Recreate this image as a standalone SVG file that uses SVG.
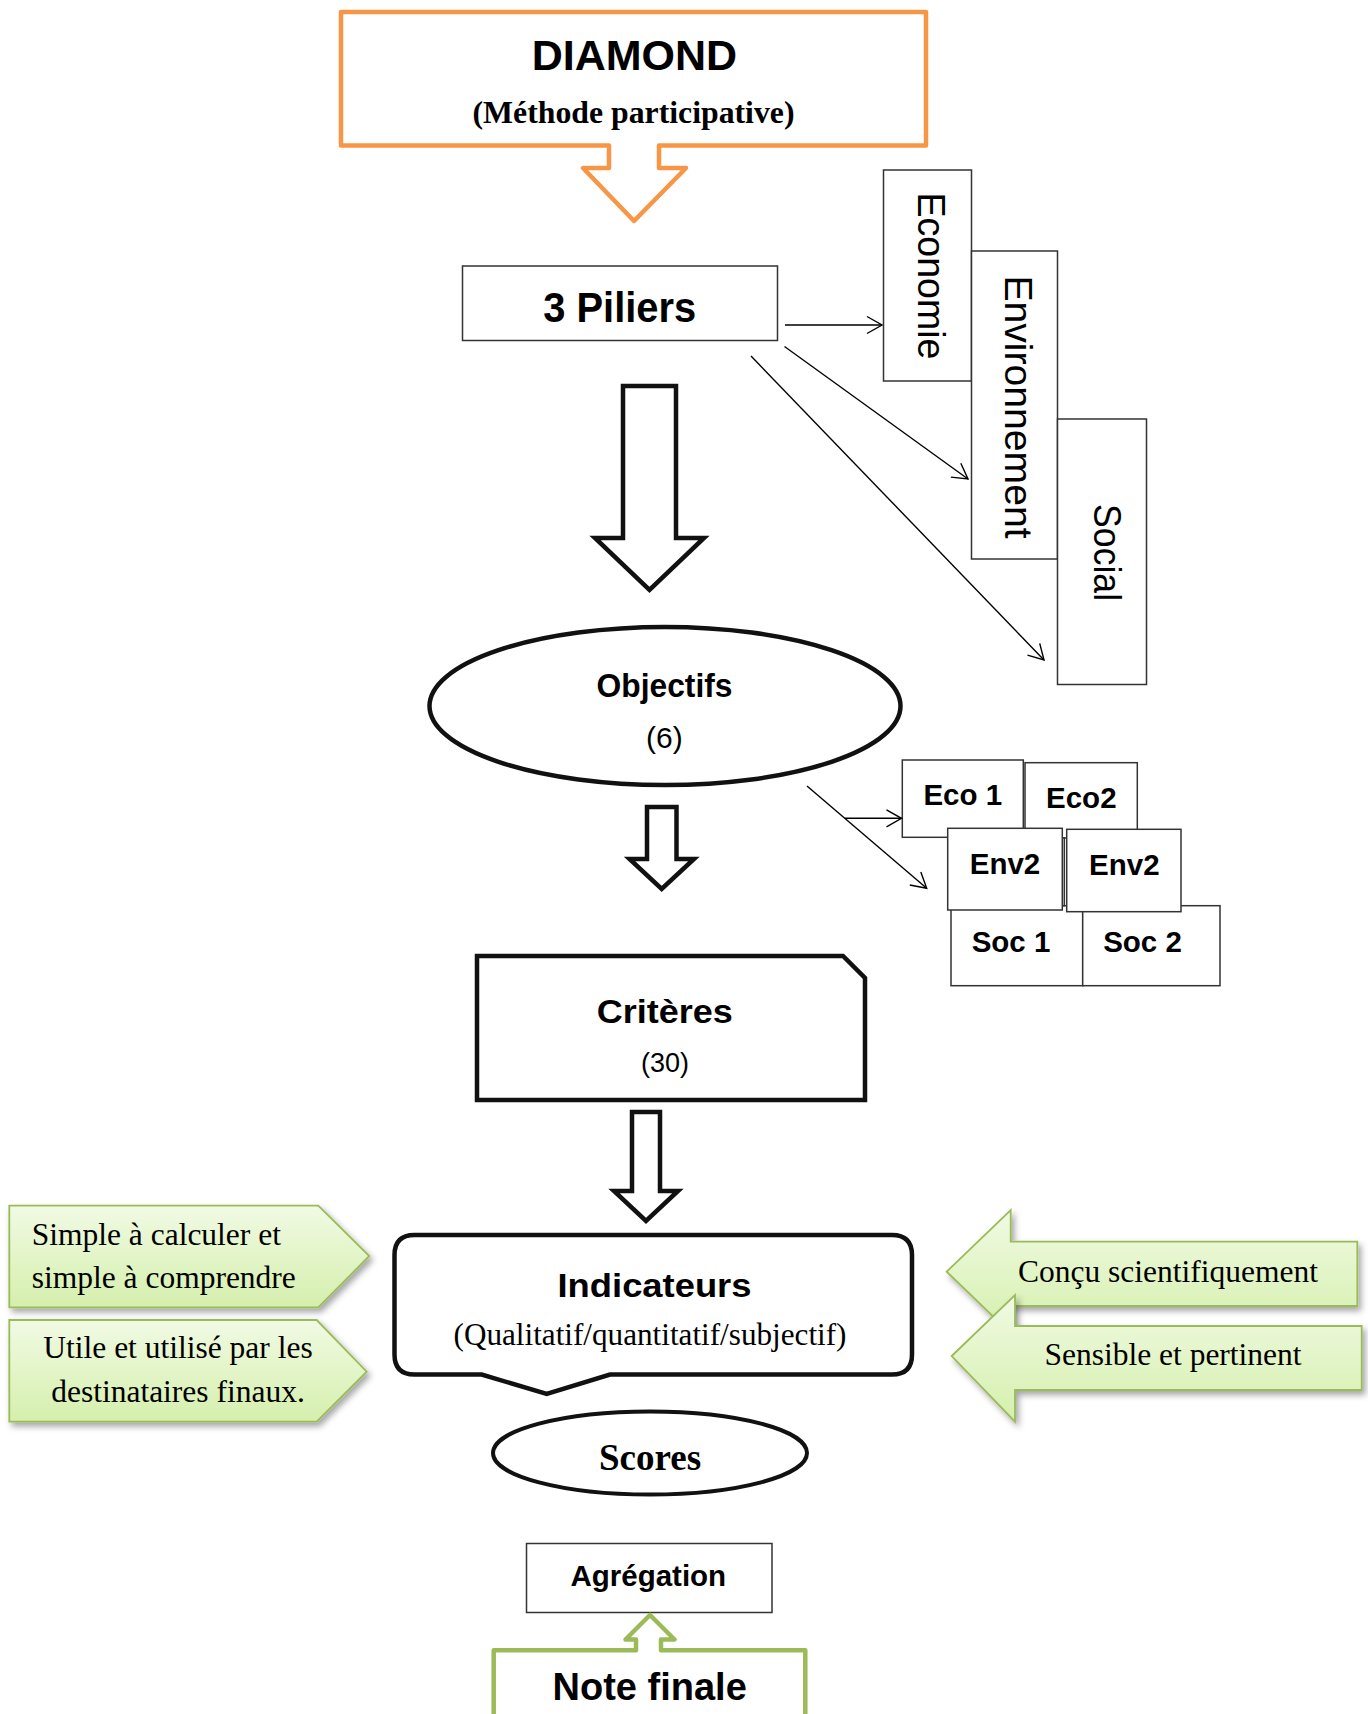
<svg xmlns="http://www.w3.org/2000/svg" width="1368" height="1714" viewBox="0 0 1368 1714">
<style>
.sans{font-family:"Liberation Sans",Arial,sans-serif;fill:#000}
.serif{font-family:"Liberation Serif","Times New Roman",serif;fill:#000}
.b{font-weight:bold}
.thin{fill:#fff;stroke:#333;stroke-width:1.5}
.thick{fill:#fff;stroke:#111;stroke-width:4.5;stroke-linejoin:miter}
.conn{fill:none;stroke:#000;stroke-width:1.4;marker-end:url(#ah)}
.green{fill:url(#gg);stroke:#9BBB59;stroke-width:1.8;filter:url(#sh)}
</style>
<defs>
<marker id="ah" viewBox="-17 -10 20 20" markerWidth="20" markerHeight="20" refX="0" refY="0" markerUnits="userSpaceOnUse" orient="auto">
<path d="M-15,-8.5 L0,0 L-15,8.5" fill="none" stroke="#000" stroke-width="1.4"/>
</marker>
<linearGradient id="gg" x1="0" y1="0" x2="0" y2="1">
<stop offset="0" stop-color="#F1FAE4"/>
<stop offset="0.5" stop-color="#E3F5C8"/>
<stop offset="1" stop-color="#D5EFAD"/>
</linearGradient>
<filter id="sh" x="-10%" y="-20%" width="125%" height="150%">
<feDropShadow dx="3" dy="4" stdDeviation="3" flood-color="#000" flood-opacity="0.35"/>
</filter>
</defs>
<rect width="1368" height="1714" fill="#fff"/>

<g id="diamond">
<path d="M341,12 H926 V145.5 H659 V168 H686 L634,221 L583,168 H609 V145.5 H341 Z" fill="#fff" stroke="#F79646" stroke-width="4.5" stroke-linejoin="round"/>
<text class="sans b" x="634.4" y="70" font-size="43" text-anchor="middle">DIAMOND</text>
<text class="serif b" x="633.5" y="123.3" font-size="31" text-anchor="middle" textLength="322" lengthAdjust="spacingAndGlyphs">(Méthode participative)</text>
</g>

<g id="piliers">
<rect class="thin" x="462.5" y="266" width="315" height="74.5"/>
<text class="sans b" x="619.75" y="321.7" font-size="42" text-anchor="middle" textLength="153" lengthAdjust="spacingAndGlyphs">3 Piliers</text>
</g>

<g id="economie">
<rect class="thin" x="883.5" y="170" width="88" height="211"/>
<text class="sans" transform="translate(917.7,276) rotate(90)" font-size="39" text-anchor="middle" textLength="167" lengthAdjust="spacingAndGlyphs">Economie</text>
</g>
<g id="environnement">
<rect class="thin" x="971.5" y="251" width="86" height="308"/>
<text class="sans" transform="translate(1005,407) rotate(90)" font-size="39" text-anchor="middle" textLength="263" lengthAdjust="spacingAndGlyphs">Environnement</text>
</g>
<g id="social">
<rect class="thin" x="1057.5" y="419" width="89" height="265.5"/>
<text class="sans" transform="translate(1094,552.6) rotate(90)" font-size="39" text-anchor="middle" textLength="97" lengthAdjust="spacingAndGlyphs">Social</text>
</g>

<g id="arrow1">
<path class="thick" d="M623,386 H676 V538 H704 L649.5,590 L595,538 H623 Z"/>
</g>

<g id="objectifs">
<ellipse class="thick" cx="665" cy="706" rx="235.5" ry="79"/>
<text class="sans b" x="664.5" y="697" font-size="32.5" text-anchor="middle" textLength="136" lengthAdjust="spacingAndGlyphs">Objectifs</text>
<text class="sans" x="664.3" y="747.5" font-size="30" text-anchor="middle">(6)</text>
</g>

<g id="arrow2">
<path class="thick" d="M647,807 H676.5 V859 H694 L661.7,889 L629.5,859 H647 Z"/>
</g>

<g id="eco1">
<rect class="thin" x="902.3" y="760" width="121" height="77.3"/>
<text class="sans b" x="962.8" y="805" font-size="29.5" text-anchor="middle">Eco 1</text>
</g>
<g id="eco2">
<rect class="thin" x="1025" y="762.7" width="112.3" height="75.3"/>
<text class="sans b" x="1081.3" y="808.3" font-size="29.5" text-anchor="middle">Eco2</text>
</g>
<g id="soc1">
<rect class="thin" x="951" y="905.7" width="131.7" height="80"/>
<text class="sans b" x="1011" y="951.7" font-size="29.5" text-anchor="middle">Soc 1</text>
</g>
<g id="soc2">
<rect class="thin" x="1082.7" y="905.7" width="137.3" height="80"/>
<text class="sans b" x="1142.5" y="951.7" font-size="29.5" text-anchor="middle">Soc 2</text>
</g>
<g id="envhidden">
<rect class="thin" x="952" y="838" width="112.3" height="67.7"/>
</g>
<g id="env2a">
<rect class="thin" x="947.7" y="828.3" width="114.6" height="81.7"/>
<text class="sans b" x="1005" y="874" font-size="29.5" text-anchor="middle">Env2</text>
</g>
<g id="env2b">
<rect class="thin" x="1066.7" y="829.3" width="114.3" height="82.4"/>
<text class="sans b" x="1124.3" y="875" font-size="29.5" text-anchor="middle">Env2</text>
</g>

<g id="criteres">
<path class="thick" d="M477,956 H843 L865,978 V1100 H477 Z"/>
<text class="sans b" x="664.7" y="1023.3" font-size="34" text-anchor="middle" textLength="136" lengthAdjust="spacingAndGlyphs">Critères</text>
<text class="sans" x="665" y="1071.7" font-size="27" text-anchor="middle">(30)</text>
</g>

<g id="arrow3">
<path class="thick" d="M632,1112 H660 V1191 H678 L646,1221 L614,1191 H632 Z"/>
</g>

<g id="indicateurs">
<path class="thick" stroke-linejoin="round" d="M414.5,1235 H892 Q912,1235 912,1255 V1354.5 Q912,1374.5 892,1374.5 H610 L546.7,1394 L481.7,1374.5 H414.5 Q394.5,1374.5 394.5,1354.5 V1255 Q394.5,1235 414.5,1235 Z"/>
<text class="sans b" x="654.5" y="1296.7" font-size="34" text-anchor="middle" textLength="194" lengthAdjust="spacingAndGlyphs">Indicateurs</text>
<text class="serif" x="650" y="1345" font-size="31" text-anchor="middle" textLength="393" lengthAdjust="spacingAndGlyphs">(Qualitatif/quantitatif/subjectif)</text>
</g>

<g id="simple">
<path class="green" d="M9.3,1205.7 H318.3 L369.3,1256 L318.3,1307.3 H9.3 Z"/>
<text class="serif" x="31.7" y="1245" font-size="31.5">Simple à calculer et</text>
<text class="serif" x="31.7" y="1288.3" font-size="31.5">simple à comprendre</text>
</g>
<g id="utile">
<path class="green" d="M9.3,1320 H316.7 L366.7,1371.7 L316.7,1421.7 H9.3 Z"/>
<text class="serif" x="178" y="1358.3" font-size="31.5" text-anchor="middle">Utile et utilisé par les</text>
<text class="serif" x="178" y="1401.7" font-size="31.5" text-anchor="middle">destinataires finaux.</text>
</g>
<g id="concu">
<path class="green" d="M946.7,1271.7 L1010.7,1210 V1241.7 H1357.3 V1306 H1010.7 V1333.4 Z"/>
<text class="serif" x="1168" y="1281.7" font-size="31.5" text-anchor="middle">Conçu scientifiquement</text>
</g>
<g id="sensible">
<path class="green" d="M951.7,1356 L1015,1295 V1326 H1361.7 V1390 H1015 V1421.7 Z"/>
<text class="serif" x="1173" y="1365" font-size="31.5" text-anchor="middle">Sensible et pertinent</text>
</g>

<g id="scores">
<ellipse cx="650" cy="1453" rx="157" ry="41.5" fill="#fff" stroke="#111" stroke-width="4"/>
<text class="serif b" x="650" y="1470" font-size="37" text-anchor="middle">Scores</text>
</g>

<g id="agregation">
<rect class="thin" x="526.5" y="1543.5" width="245.5" height="69"/>
<text class="sans b" x="648.3" y="1586" font-size="29.5" text-anchor="middle">Agrégation</text>
</g>

<g id="notefinale">
<path d="M493.7,1722 V1650.3 H636 V1639.5 H625.5 L650,1615 L674.5,1639.5 H661 V1650.3 H805.3 V1722" fill="#fff" stroke="#9BBB59" stroke-width="4.5" stroke-linejoin="round"/>
<text class="sans b" x="649.7" y="1700" font-size="38" text-anchor="middle">Note finale</text>
</g>

<g id="connectors">
<line class="conn" x1="785" y1="325" x2="882" y2="325"/>
<line class="conn" x1="784.5" y1="346.5" x2="968" y2="479"/>
<line class="conn" x1="751" y1="356" x2="1044" y2="660"/>
<line class="conn" x1="807" y1="786" x2="926.7" y2="888.3"/>
<line class="conn" x1="845" y1="818.3" x2="901.5" y2="818.3"/>
</g>
</svg>
